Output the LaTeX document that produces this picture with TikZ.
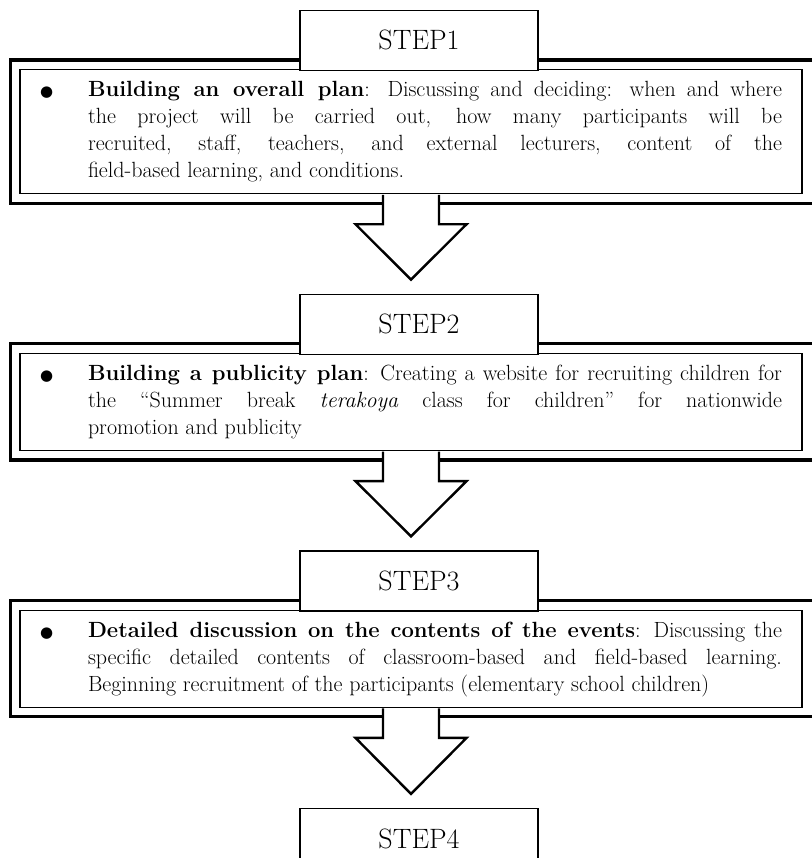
\documentclass[tikz,border=0pt]{standalone}
\usepackage{fontspec}
\newfontfamily\dotfont{DejaVu Sans}
\usetikzlibrary{positioning,fit,calc}
\tikzstyle{stepbox} = [rectangle,
                      minimum width=238pt,
                      minimum height=60pt,
                      draw=black,
                      fill=white,
                      line width=1.2pt,
                      font=\fontsize{28}{32}\selectfont]
\tikzstyle{plan} = [rectangle,
                   text width=742pt,
                   inner xsep=20pt,
                   inner ysep=8pt,
                   align=justify,
                   draw=black,
                   line width=1.2pt,
                   font=\fontsize{22}{27}\selectfont]
\tikzstyle{frame} = [rectangle,
                    inner sep=9pt,
                    draw=black,
                    line width=3.2pt]
\tikzstyle{bigarrow} = [draw=black,
                       line width=2.4pt,
                       line join=miter]
\tikzstyle{flow} = [x=1pt,
                   y=1pt,
                   node distance=1cm]
\newcommand{\itempoint}[1]{\noindent\makebox[48pt][l]{\dotfont\fontsize{15}{27}\selectfont ●}%
  \parbox[t]{694pt}{\leftskip=0pt\rightskip=0pt\spaceskip=0pt\xspaceskip=0pt%
  \parfillskip=0pt plus 1fil\tolerance=9999%
  \hyphenpenalty=10000\exhyphenpenalty=10000\strut #1\strut}}

\begin{document}
\begin{tikzpicture}[flow]
    \useasboundingbox (0,0) rectangle (811,-858);
    \node (plan1) [anchor=north] [plan] at (411,-69) {\itempoint{\textbf{Building an overall plan}: Discussing and deciding: when and where\linebreak the project will be carried out, how many participants will be\linebreak recruited, staff, teachers, and external lecturers, content of the\linebreak field-based learning, and conditions.}};
    \node (frame1) [fit={(plan1) ($(plan1.south east)+(8,0)$)}] [frame] {};
    \node (step1) [above=-2pt of plan1, xshift=8pt] [stepbox] {STEP1};
    \node (plan2) [below=158.6pt of plan1] [plan] {\itempoint{\textbf{Building a publicity plan}: Creating a website for recruiting children for\linebreak the “Summer break \textit{terakoya} class for children” for nationwide\linebreak promotion and publicity}};
    \node (frame2) [fit={(plan2) ($(plan2.south east)+(8,0)$)}] [frame] {};
    \node (step2) [above=-2pt of plan2, xshift=8pt] [stepbox] {STEP2};
    \node (plan3) [below=158.6pt of plan2] [plan] {\itempoint{\textbf{Detailed discussion on the contents of the events}: Discussing the\linebreak specific detailed contents of classroom-based and field-based learning.\linebreak Beginning recruitment of the participants (elementary school children)}};
    \node (frame3) [fit={(plan3) ($(plan3.south east)+(8,0)$)}] [frame] {};
    \node (step3) [above=-2pt of plan3, xshift=8pt] [stepbox] {STEP3};
    \node (step4) [below=100.1pt of plan3, xshift=8pt] [stepbox] {STEP4};
    \foreach \a/\b in {1/2,2/3,3/4} {
      \fill[white] ($(plan\a.south)+(-28,-1)$) rectangle ($(plan\a.south |- frame\a.south)+(28,-19.5)$);
      \draw[bigarrow] ($(plan\a.south)+(-28,-0.6)$) -- ($(plan\a.south |- frame\a.south)+(-28,-19.5)$) -- ++(-27.5,0)
        -- ($(plan\a.south |- step\b.north)+(0,14)$) -- ($(plan\a.south |- frame\a.south)+(55.5,-19.5)$) -- ++(-27.5,0)
        -- ($(plan\a.south)+(28,-0.6)$);
    }
\end{tikzpicture}
\end{document}
